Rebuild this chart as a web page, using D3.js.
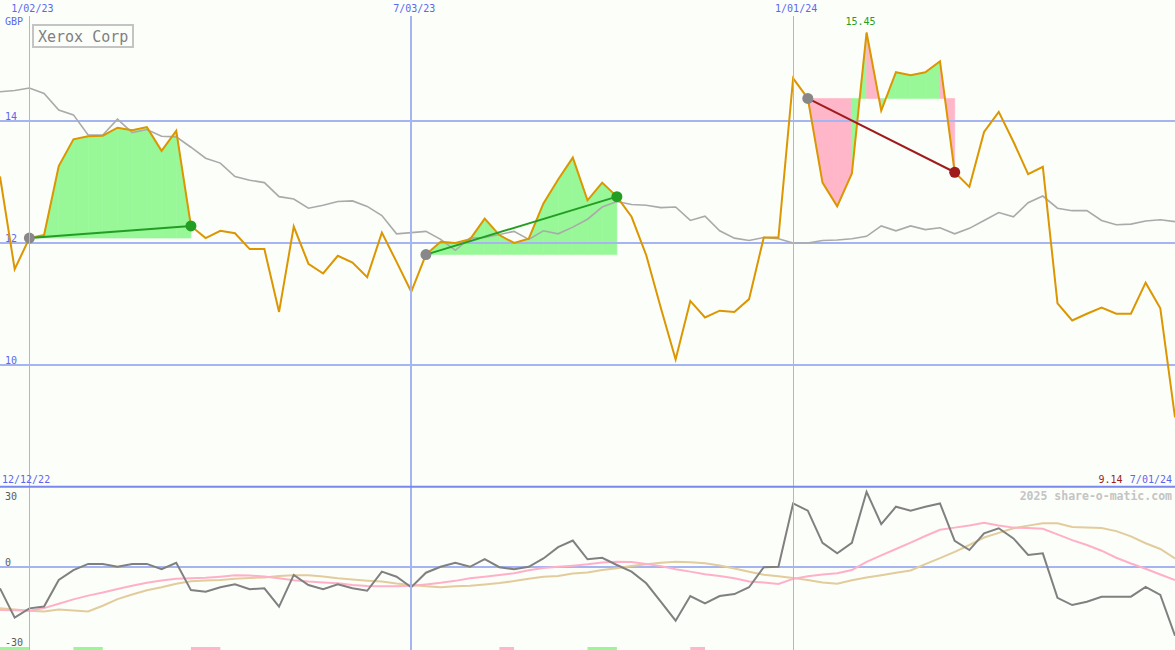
<!DOCTYPE html>
<html>
<head>
<meta charset="utf-8">
<script src="https://cdn.jsdelivr.net/npm/d3@7"></script>
<style>
  html, body { margin: 0; padding: 0; background: #fcfefa; }
  svg { display: block; }
  text { font-family: "DejaVu Sans Mono", monospace; }
</style>
</head>
<body>
<svg id="chart" width="1175" height="650"></svg>
<script>
// ---------------- DATA ----------------
const title = "Xerox Corp";
const currency = "GBP";
const startLabel = "12/12/22";
const endLabel = "7/01/24";
const lastPriceLabel = "9.14";
const highLabel = "15.45";
const credit = "2025 share-o-matic.com";

// week index of dated vertical grid lines, and their labels
const dateWeeks = [2, 28, 54];
const dateLabels = ["1/02/23", "7/03/23", "1/01/24"];
const dateWidths = [1, 2, 1];

const priceTicks = [10, 12, 14];
const momTicks = [30, 0, -30];

// weekly closing prices (81 weeks)
const price = [
  13.09, 11.57, 12.08, 12.13, 13.26, 13.70, 13.75, 13.76, 13.89, 13.85,
  13.90, 13.51, 13.84, 12.28, 12.08, 12.20, 12.16, 11.90, 11.90, 10.87,
  12.27, 11.66, 11.50, 11.79, 11.68, 11.44, 12.17, 11.69, 11.20, 11.81,
  12.02, 12.00, 12.06, 12.40, 12.13, 12.00, 12.07, 12.65, 13.04, 13.40,
  12.70, 12.99, 12.76, 12.43, 11.80, 10.93, 10.09, 11.05, 10.78, 10.89,
  10.87, 11.08, 12.09, 12.09, 14.70, 14.37, 12.99, 12.60, 13.14, 15.45,
  14.17, 14.80, 14.75, 14.80, 14.98, 13.16, 12.92, 13.82, 14.15, 13.66,
  13.13, 13.25, 11.01, 10.73, 10.84, 10.94, 10.84, 10.84, 11.35, 10.93,
  9.14
];

// moving average of price (grey line)
const priceAvg = [
  14.48, 14.50, 14.54, 14.45, 14.18, 14.10, 13.77, 13.77, 14.03, 13.81,
  13.86, 13.75, 13.74, 13.57, 13.39, 13.31, 13.09, 13.03, 12.99, 12.76,
  12.72, 12.57, 12.62, 12.68, 12.69, 12.60, 12.45, 12.15, 12.17, 12.19,
  12.06, 11.88, 12.08, 12.09, 12.14, 12.19, 12.06, 12.20, 12.15, 12.26,
  12.39, 12.59, 12.68, 12.63, 12.62, 12.58, 12.59, 12.37, 12.44, 12.20,
  12.08, 12.04, 12.09, 12.07, 12.00, 12.00, 12.04, 12.05, 12.07, 12.11,
  12.28, 12.20, 12.28, 12.22, 12.25, 12.15, 12.24, 12.37, 12.50, 12.43,
  12.66, 12.77, 12.57, 12.53, 12.53, 12.37, 12.30, 12.31, 12.36, 12.38,
  12.35
];

// momentum (dark grey, lower panel)
const momentum = [
  -9.7, -23.0, -18.8, -18.0, -5.9, -1.4, 1.4, 1.4, 0.1, 1.4,
  1.4, -1.0, 1.9, -10.5, -11.2, -9.2, -7.9, -10.1, -9.7, -18.0,
  -3.6, -8.2, -10.1, -7.9, -9.7, -10.8, -2.1, -4.4, -9.2, -2.6,
  0.1, 1.9, 0.1, 3.6, -0.1, -1.0, 0.1, 3.9, 9.0, 12.0,
  3.5, 4.2, 0.9, -2.1, -7.4, -15.8, -24.4, -13.2, -16.5, -13.2,
  -12.3, -9.2, -0.1, 0.1, 28.9, 25.6, 11.0, 6.2, 11.0, 34.2,
  19.5, 27.4, 25.6, 27.4, 28.9, 11.9, 7.7, 15.3, 17.6, 13.0,
  5.5, 6.2, -14.0, -17.3, -15.8, -13.5, -13.5, -13.5, -9.0, -12.7,
  -31.2
];

// fast average of momentum (pink)
const momFast = [
  -19.5, -19.7, -19.9, -18.7, -16.7, -14.7, -13.0, -11.6, -10.0, -8.5,
  -7.2, -6.1, -5.3, -5.1, -4.9, -4.4, -3.8, -3.9, -4.3, -5.1,
  -6.0, -6.6, -7.0, -7.4, -8.2, -8.6, -8.8, -8.8, -8.5, -7.9,
  -7.2, -6.3, -5.1, -4.4, -3.6, -2.8, -1.5, -0.5, 0.1, 0.6,
  1.2, 2.0, 2.4, 2.3, 1.4, 0.4, -1.0, -2.1, -3.3, -4.1,
  -5.1, -6.6, -7.0, -7.7, -5.4, -4.2, -3.4, -2.8, -1.4, 2.3,
  5.3, 8.2, 11.1, 14.1, 16.9, 17.9, 18.9, 20.1, 18.9, 17.9,
  17.7, 17.4, 14.8, 12.2, 10.0, 7.4, 4.2, 1.6, -0.8, -3.4,
  -5.9
];

// slow average of momentum (tan)
const momSlow = [
  -18.8, -19.3, -19.9, -20.2, -19.3, -19.8, -20.2, -17.6, -14.6, -12.5,
  -10.6, -9.2, -7.6, -6.5, -6.1, -5.9, -5.3, -5.0, -4.8, -4.1,
  -3.7, -3.8, -4.3, -5.1, -5.7, -6.2, -6.6, -7.5, -8.2, -8.8,
  -9.2, -8.8, -8.5, -7.9, -7.3, -6.4, -5.3, -4.4, -4.1, -3.0,
  -2.5, -1.4, -0.6, 0.5, 1.3, 1.9, 2.4, 2.2, 1.7, 0.7,
  -0.7, -2.2, -3.5, -4.2, -5.0, -5.9, -7.0, -7.6, -6.0, -4.8,
  -3.7, -2.6, -1.6, 1.3, 4.0, 6.9, 10.0, 13.4, 15.5, 17.6,
  18.8, 19.9, 19.9, 18.2, 17.9, 17.7, 16.3, 13.9, 10.8, 8.2,
  3.9
];

// trades: entry week and exit week
const tradeStart = [2, 29, 55];
const tradeEnd = [13, 42, 65];

// signal markers at the bottom edge (week ranges)
const signalFrom = [0, 5, 13, 34, 40, 47];
const signalTo   = [2, 7, 15, 35, 42, 48];
const signalType = ["buy", "buy", "sell", "sell", "buy", "sell"];

// ---------------- CHART ----------------
const W = 1175, H = 650;
const C = {
  grid: "#a6b4f2", sep: "#7888ec", tick: "#5a68ee",
  price: "#dc9600", avg: "#aaaaaa", mom: "#808080",
  fast: "#ffb0c8", slow: "#e2cc9c",
  green: "#98f898", pink: "#ffb6c8",
  winLine: "#229e22", loseLine: "#a01c1c", dotStart: "#888888"
};

const svg = d3.select("#chart");
svg.append("rect").attr("width", W).attr("height", H).attr("fill", "#fcfefa");

const x = d3.scaleLinear().domain([0, price.length - 1]).range([0, W]);
const yT = d3.scaleLinear().domain([10, 14]).range([365, 121]);
const yB = d3.scaleLinear().domain([-30, 30]).range([633, 501]);

const topG = svg.append("g");
const botG = svg.append("g");

// trade fills (per segment, coloured by where the segment ends)
tradeStart.forEach((s, t) => {
  const e = tradeEnd[t];
  const base = price[s];
  for (let i = s; i < e; i++) {
    const pts = [[x(i), yT(base)], [x(i), yT(price[i])], [x(i + 1), yT(price[i + 1])], [x(i + 1), yT(base)]];
    const col = price[i + 1] >= base ? C.green : C.pink;
    topG.append("path")
      .attr("d", d3.line()(pts) + "Z")
      .attr("fill", col).attr("stroke", col).attr("stroke-width", 0.6);
  }
});

// horizontal grid (top)
priceTicks.forEach(v => {
  topG.append("line").attr("x1", 0).attr("x2", W)
    .attr("y1", yT(v)).attr("y2", yT(v))
    .attr("stroke", C.grid).attr("stroke-width", 2);
  topG.append("text").attr("x", 5).attr("y", yT(v) - 1.5)
    .attr("fill", C.tick).attr("font-size", 10).text(v);
});

// vertical date grid
dateWeeks.forEach((w, k) => {
  const xx = Math.round(x(w)) + (dateWidths[k] === 1 ? 0.5 : 0);
  svg.append("line").attr("x1", xx).attr("x2", xx).attr("y1", 16).attr("y2", H)
    .attr("stroke", C.grid).attr("stroke-width", dateWidths[k]);
  svg.append("text").attr("x", x(w) + 3).attr("y", 12)
    .attr("text-anchor", "middle").attr("fill", C.tick).attr("font-size", 10)
    .text(dateLabels[k]);
});

svg.append("text").attr("x", 5).attr("y", 25).attr("fill", C.tick)
  .attr("font-size", 10).text(currency);

// price average and price
const lineT = d3.line().x((d, i) => x(i)).y(d => yT(d));
topG.append("path").attr("d", lineT(priceAvg)).attr("fill", "none")
  .attr("stroke", C.avg).attr("stroke-width", 1.6);
topG.append("path").attr("d", lineT(price)).attr("fill", "none")
  .attr("stroke", C.price).attr("stroke-width", 2).attr("stroke-linejoin", "miter");

// trade lines & dots
tradeStart.forEach((s, t) => {
  const e = tradeEnd[t];
  const win = price[e] >= price[s];
  const col = win ? C.winLine : C.loseLine;
  topG.append("line").attr("x1", x(s)).attr("y1", yT(price[s]))
    .attr("x2", x(e)).attr("y2", yT(price[e]))
    .attr("stroke", col).attr("stroke-width", 2);
  topG.append("circle").attr("cx", x(s)).attr("cy", yT(price[s])).attr("r", 5.5)
    .attr("fill", C.dotStart);
  topG.append("circle").attr("cx", x(e)).attr("cy", yT(price[e])).attr("r", 5.5)
    .attr("fill", col);
});

// high label
const hiIdx = price.indexOf(d3.max(price));
svg.append("text").attr("x", x(hiIdx) - 6).attr("y", 25).attr("text-anchor", "middle")
  .attr("fill", C.winLine).attr("font-size", 10).text(highLabel);

// title box
svg.append("rect").attr("x", 33).attr("y", 25).attr("width", 100).attr("height", 22)
  .attr("fill", "#fcfefa").attr("stroke", "#c4c4c4").attr("stroke-width", 2);
svg.append("text").attr("x", 38).attr("y", 41.5).attr("fill", "#808080")
  .attr("font-size", 15).text(title);

// separator
svg.append("line").attr("x1", 0).attr("x2", W).attr("y1", 486.7).attr("y2", 486.7)
  .attr("stroke", C.sep).attr("stroke-width", 2);
svg.append("text").attr("x", 2).attr("y", 483).attr("fill", C.tick)
  .attr("font-size", 10).text(startLabel);
svg.append("text").attr("x", 1172).attr("y", 483).attr("text-anchor", "end")
  .attr("fill", C.tick).attr("font-size", 10).text(endLabel);
svg.append("text").attr("x", 1122.5).attr("y", 483).attr("text-anchor", "end")
  .attr("fill", C.loseLine).attr("font-size", 10).text(lastPriceLabel);
svg.append("text").attr("x", 1172).attr("y", 500).attr("text-anchor", "end")
  .attr("fill", "#c4c4c4").attr("font-size", 11.5).attr("font-weight", "bold").text(credit);

// lower panel
botG.append("line").attr("x1", 0).attr("x2", W).attr("y1", yB(0)).attr("y2", yB(0))
  .attr("stroke", C.grid).attr("stroke-width", 2);
momTicks.forEach(v => {
  // the lowest tick label sits at the bottom edge of the panel
  const ty = v < 0 ? 646 : yB(v) - 1.3;
  botG.append("text").attr("x", 5).attr("y", ty)
    .attr("fill", "#5a5a5a").attr("font-size", 10).text(String(v));
});
const lineB = d3.line().x((d, i) => x(i)).y(d => yB(d));
botG.append("path").attr("d", lineB(momSlow)).attr("fill", "none")
  .attr("stroke", C.slow).attr("stroke-width", 2);
botG.append("path").attr("d", lineB(momFast)).attr("fill", "none")
  .attr("stroke", C.fast).attr("stroke-width", 2);
botG.append("path").attr("d", lineB(momentum)).attr("fill", "none")
  .attr("stroke", C.mom).attr("stroke-width", 2);

// signal markers
signalFrom.forEach((f, k) => {
  botG.append("rect").attr("x", x(f)).attr("y", 647)
    .attr("width", x(signalTo[k]) - x(f)).attr("height", 3)
    .attr("fill", signalType[k] === "buy" ? C.green : C.pink);
});
</script>
</body>
</html>
